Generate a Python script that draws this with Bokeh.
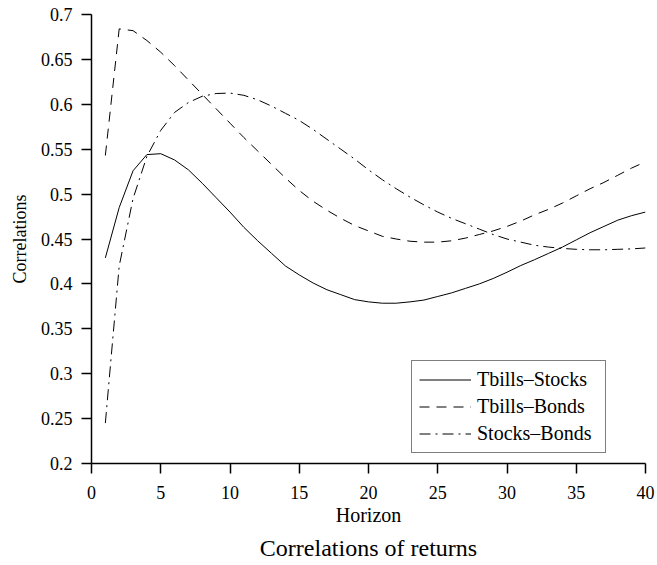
from bokeh.plotting import figure
from bokeh.models import Range1d, FixedTicker, Legend, LegendItem, Title
from bokeh.embed import file_html
from bokeh.resources import INLINE

horizon = list(range(1, 41))
tbills_stocks = [0.429, 0.485, 0.526, 0.544, 0.545, 0.538, 0.527, 0.512, 0.496, 0.480,
                 0.463, 0.448, 0.434, 0.420, 0.410, 0.401, 0.3935, 0.388, 0.3825, 0.380,
                 0.3785, 0.3785, 0.380, 0.382, 0.386, 0.390, 0.395, 0.400, 0.406, 0.413,
                 0.4205, 0.427, 0.434, 0.441, 0.449, 0.457, 0.464, 0.471, 0.476, 0.480]
tbills_bonds = [0.543, 0.684, 0.682, 0.671, 0.658, 0.643, 0.627, 0.611, 0.595, 0.579,
                0.563, 0.548, 0.533, 0.518, 0.504, 0.492, 0.482, 0.473, 0.465, 0.459,
                0.453, 0.450, 0.4475, 0.4465, 0.4465, 0.448, 0.451, 0.455, 0.459, 0.464,
                0.470, 0.477, 0.483, 0.490, 0.498, 0.506, 0.513, 0.521, 0.529, 0.536]
stocks_bonds = [0.245, 0.420, 0.495, 0.542, 0.571, 0.591, 0.602, 0.609, 0.612, 0.6125,
                0.610, 0.605, 0.598, 0.590, 0.582, 0.572, 0.561, 0.550, 0.539, 0.527,
                0.516, 0.506, 0.4966, 0.488, 0.480, 0.473, 0.467, 0.461, 0.455, 0.450,
                0.4465, 0.443, 0.441, 0.4395, 0.4385, 0.438, 0.438, 0.4385, 0.439, 0.440]
series_names = ["Tbills\u2013Stocks", "Tbills\u2013Bonds", "Stocks\u2013Bonds"]
x_ticks = [0, 5, 10, 15, 20, 25, 30, 35, 40]
y_ticks = [0.2, 0.25, 0.3, 0.35, 0.4, 0.45, 0.5, 0.55, 0.6, 0.65, 0.7]
y_tick_labels = ["0.2", "0.25", "0.3", "0.35", "0.4", "0.45", "0.5", "0.55", "0.6", "0.65", "0.7"]

FONT = "Liberation Serif"

p = figure(width=657, height=565, output_backend="svg", toolbar_location=None,
           x_range=Range1d(0, 40), y_range=Range1d(0.2, 0.7),
           min_border_left=91, min_border_right=12, min_border_top=14, min_border_bottom=102)
p.outline_line_color = None
p.grid.visible = False
p.background_fill_color = "white"
p.border_fill_color = "white"

r1 = p.line(horizon, tbills_stocks, line_color="black", line_width=1)
r2 = p.line(horizon, tbills_bonds, line_color="black", line_width=1, line_dash="10 7")
r3 = p.line(horizon, stocks_bonds, line_color="black", line_width=1, line_dash="11 5 2 5")

for ax in (p.xaxis[0], p.yaxis[0]):
    ax.axis_line_color = "black"
    ax.axis_line_width = 1.5
    ax.major_tick_line_color = "black"
    ax.major_tick_line_width = 1.5
    ax.major_tick_in = 0
    ax.major_tick_out = 10
    ax.minor_tick_line_color = None
    ax.major_label_text_font = FONT
    ax.major_label_text_font_size = "18px"
    ax.major_label_text_color = "black"
    ax.axis_label_text_font = FONT
    ax.axis_label_text_font_style = "normal"
    ax.axis_label_text_color = "black"

p.xaxis[0].ticker = FixedTicker(ticks=x_ticks)
p.yaxis[0].ticker = FixedTicker(ticks=y_ticks)
p.yaxis[0].major_label_overrides = {t: l for t, l in zip(y_ticks, y_tick_labels)}
p.xaxis[0].axis_label = "Horizon"
p.yaxis[0].axis_label = "Correlations"
p.xaxis[0].axis_label_text_font_size = "20px"
p.yaxis[0].axis_label_text_font_size = "18px"
p.xaxis[0].major_label_standoff = 12
p.yaxis[0].major_label_standoff = 9
p.xaxis[0].axis_label_standoff = 2
p.yaxis[0].axis_label_standoff = 8

legend = Legend(items=[LegendItem(label=series_names[0], renderers=[r1]),
                       LegendItem(label=series_names[1], renderers=[r2]),
                       LegendItem(label=series_names[2], renderers=[r3])],
                location=(320, 10))
legend.border_line_color = "black"
legend.border_line_width = 1
legend.background_fill_color = "white"
legend.background_fill_alpha = 1
legend.label_text_font = FONT
legend.label_text_font_size = "20px"
legend.label_text_color = "black"
legend.glyph_width = 52
legend.glyph_height = 23
legend.label_height = 23
legend.label_width = 121
legend.label_standoff = 6
legend.padding = 7
legend.spacing = 4
legend.margin = 0
p.add_layout(legend, "center")

title = Title(text="Correlations of returns", align="center", text_font=FONT,
              text_font_size="24px", text_font_style="normal", text_color="black",
              standoff=8)
p.add_layout(title, "below")

open("out.html", "w").write(file_html(p, INLINE))
